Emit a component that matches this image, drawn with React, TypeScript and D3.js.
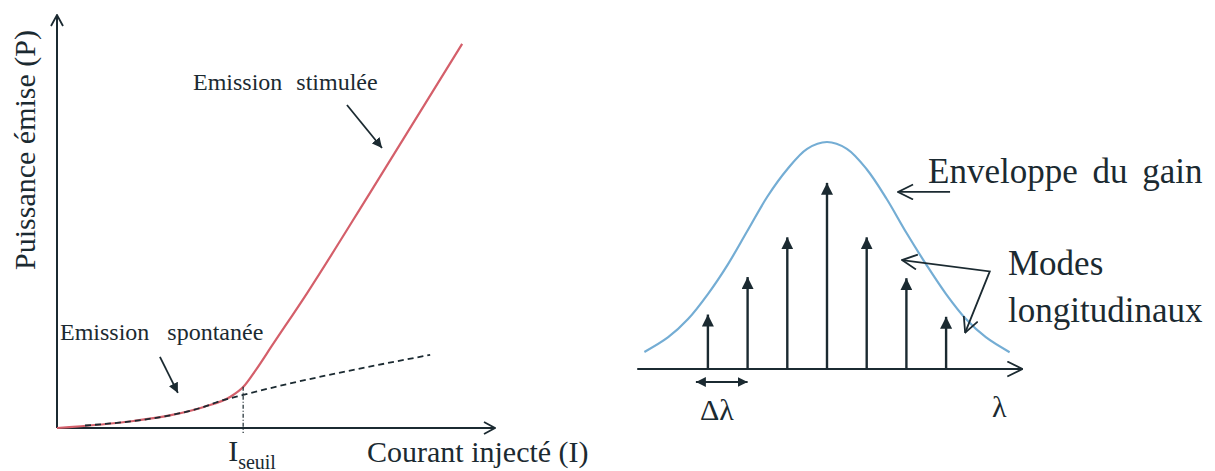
import * as d3 from "d3";
import { useEffect, useRef } from "react";

const COLORS = {
  ink: "#1b2a31",
  red: "#d45f6a",
  blue: "#74add4",
};
const FONT = "'Liberation Serif', 'DejaVu Serif', serif";

// Left panel: P(I) characteristic of the laser diode
const CURRENT = [0, 1.75, 2.6, 3.35, 3.95, 4.25, 4.55, 4.9, 5.7, 7.15, 9.25];
const POWER = [0, 0.17, 0.31, 0.51, 0.75, 0.99, 1.42, 1.98, 3.25, 5.7, 9.3];
const SPONT_CURRENT = [0.64, 1.75, 2.6, 3.35, 3.72, 4.25, 8.52];
const SPONT_POWER = [0.06, 0.17, 0.31, 0.51, 0.65, 0.8, 1.77];
const I_SEUIL = 4.25;

// Right panel: gain envelope and longitudinal modes
const MODE_INDEX = [-3, -2, -1, 0, 1, 2, 3];
const MODE_GAIN = [0.24, 0.405, 0.58, 0.82, 0.58, 0.4, 0.23];
const ENV_LAMBDA = [-4.6, -4, -3.5, -3, -2.5, -2, -1.5, -1, -0.5, 0, 0.5, 1, 1.5, 2, 2.5, 3, 3.5, 4, 4.6];
const ENV_GAIN = [0.075, 0.14, 0.22, 0.33, 0.46, 0.61, 0.76, 0.88, 0.97, 1, 0.97, 0.88, 0.75, 0.6, 0.46, 0.33, 0.22, 0.14, 0.074];

const W = 1215;
const H = 471;

const App = () => {
  const svgRef = useRef<SVGSVGElement | null>(null);

  useEffect(() => {
    const svg = d3.select(svgRef.current);
    svg.selectAll("*").remove();
    svg.attr("width", W).attr("height", H);

    svg.append("rect").attr("width", W).attr("height", H).attr("fill", "#fff");

    // arrow markers
    const defs = svg.append("defs");
    const filled = (id: string, len: number, half: number) =>
      defs
        .append("marker")
        .attr("id", id)
        .attr("markerUnits", "userSpaceOnUse")
        .attr("viewBox", `0 ${-half} ${len} ${half * 2}`)
        .attr("refX", len)
        .attr("refY", 0)
        .attr("markerWidth", len)
        .attr("markerHeight", half * 2)
        .attr("orient", "auto-start-reverse")
        .append("path")
        .attr("d", `M0,${-half}L${len},0L0,${half}Z`)
        .attr("fill", COLORS.ink);
    filled("head", 12, 6);
    filled("headSmall", 10, 5);

    const open = (id: string, len: number, half: number) =>
      defs
        .append("marker")
        .attr("id", id)
        .attr("markerUnits", "userSpaceOnUse")
        .attr("viewBox", `-1 ${-half - 1} ${len + 2} ${half * 2 + 2}`)
        .attr("refX", len)
        .attr("refY", 0)
        .attr("markerWidth", len + 2)
        .attr("markerHeight", half * 2 + 2)
        .attr("orient", "auto-start-reverse")
        .append("path")
        .attr("d", `M0,${-half}L${len},0L0,${half}`)
        .attr("fill", "none")
        .attr("stroke", COLORS.ink)
        .attr("stroke-width", 1.8);
    open("chev", 11, 6);
    open("chevBig", 15, 7.5);

    // ---------- left panel ----------
    const x = d3.scaleLinear().domain([0, 10]).range([57, 495]);
    const y = d3.scaleLinear().domain([0, 10]).range([428, 15]);

    const left = svg.append("g");

    // axes
    left
      .append("line")
      .attr("x1", x(0))
      .attr("y1", y(0))
      .attr("x2", x(0))
      .attr("y2", y(10))
      .attr("stroke", COLORS.ink)
      .attr("stroke-width", 2)
      .attr("marker-end", "url(#chev)");
    left
      .append("line")
      .attr("x1", x(0))
      .attr("y1", y(0))
      .attr("x2", x(10))
      .attr("y2", y(0))
      .attr("stroke", COLORS.ink)
      .attr("stroke-width", 2)
      .attr("marker-end", "url(#chev)");

    // stimulated emission curve
    left
      .append("path")
      .attr(
        "d",
        d3
          .line<number>()
          .x((_, i) => x(CURRENT[i]))
          .y((_, i) => y(POWER[i]))
          .curve(d3.curveMonotoneX)(CURRENT)
      )
      .attr("fill", "none")
      .attr("stroke", COLORS.red)
      .attr("stroke-width", 2.2);

    // spontaneous emission (dashed)
    left
      .append("path")
      .attr(
        "d",
        d3
          .line<number>()
          .x((_, i) => x(SPONT_CURRENT[i]))
          .y((_, i) => y(SPONT_POWER[i]))
          .curve(d3.curveMonotoneX)(SPONT_CURRENT)
      )
      .attr("fill", "none")
      .attr("stroke", COLORS.ink)
      .attr("stroke-width", 1.8)
      .attr("stroke-dasharray", "6,4");

    // threshold marker
    left
      .append("line")
      .attr("x1", x(I_SEUIL))
      .attr("x2", x(I_SEUIL))
      .attr("y1", y(1.0))
      .attr("y2", y(-0.12))
      .attr("stroke", COLORS.ink)
      .attr("stroke-width", 1.2)
      .attr("stroke-dasharray", "4,2,1,2");

    // annotations
    left
      .append("line")
      .attr("x1", x(6.62))
      .attr("y1", y(7.82))
      .attr("x2", x(7.42))
      .attr("y2", y(6.78))
      .attr("stroke", COLORS.ink)
      .attr("stroke-width", 1.8)
      .attr("marker-end", "url(#headSmall)");
    left
      .append("line")
      .attr("x1", x(2.35))
      .attr("y1", y(1.72))
      .attr("x2", x(2.76))
      .attr("y2", y(0.85))
      .attr("stroke", COLORS.ink)
      .attr("stroke-width", 1.8)
      .attr("marker-end", "url(#headSmall)");

    const text = (g: any, tx: number, ty: number, s: string, size: number) =>
      g
        .append("text")
        .attr("x", tx)
        .attr("y", ty)
        .attr("font-size", size)
        .attr("fill", COLORS.ink)
        .text(s);

    text(left, 193, 90, "Emission stimulée", 24).attr("word-spacing", 8);
    text(left, 60, 340, "Emission spontanée", 24).attr("word-spacing", 12);
    text(left, 367, 462, "Courant injecté (I)", 30);

    const iSeuil = left
      .append("text")
      .attr("x", x(I_SEUIL) - 15)
      .attr("y", 461)
      .attr("fill", COLORS.ink);
    iSeuil.append("tspan").attr("font-size", 30).text("I");
    iSeuil.append("tspan").attr("font-size", 20).attr("dy", 8).text("seuil");

    left
      .append("text")
      .attr("transform", "translate(35,150) rotate(-90)")
      .attr("text-anchor", "middle")
      .attr("font-size", 30)
      .attr("fill", COLORS.ink)
      .text("Puissance émise (P)");

    // ---------- right panel ----------
    const xr = d3.scaleLinear().domain([-5, 5]).range([827 - 5 * 39.7, 827 + 5 * 39.7]);
    const yr = d3.scaleLinear().domain([0, 1]).range([369, 142]);
    const right = svg.append("g");

    // gain envelope
    right
      .append("path")
      .attr(
        "d",
        d3
          .line<number>()
          .x((_, i) => xr(ENV_LAMBDA[i]))
          .y((_, i) => yr(ENV_GAIN[i]))
          .curve(d3.curveCatmullRom)(ENV_LAMBDA)
      )
      .attr("fill", "none")
      .attr("stroke", COLORS.blue)
      .attr("stroke-width", 2.2);

    // λ axis
    right
      .append("line")
      .attr("x1", xr(-4.78))
      .attr("x2", xr(4.92))
      .attr("y1", yr(0))
      .attr("y2", yr(0))
      .attr("stroke", COLORS.ink)
      .attr("stroke-width", 2.2)
      .attr("marker-end", "url(#chevBig)");

    // modes
    right
      .selectAll(".mode")
      .data(MODE_INDEX)
      .enter()
      .append("line")
      .attr("class", "mode")
      .attr("x1", (d) => xr(d))
      .attr("x2", (d) => xr(d))
      .attr("y1", yr(0))
      .attr("y2", (_, i) => yr(MODE_GAIN[i]))
      .attr("stroke", COLORS.ink)
      .attr("stroke-width", 2.4)
      .attr("marker-end", "url(#head)");

    // Δλ spacing
    right
      .append("line")
      .attr("x1", xr(MODE_INDEX[0]) - 12)
      .attr("x2", xr(MODE_INDEX[1]))
      .attr("y1", yr(0) + 13)
      .attr("y2", yr(0) + 13)
      .attr("stroke", COLORS.ink)
      .attr("stroke-width", 2)
      .attr("marker-start", "url(#headSmall)")
      .attr("marker-end", "url(#headSmall)");

    // labels with pointers
    right
      .append("line")
      .attr("x1", xr(3.1))
      .attr("x2", xr(1.79))
      .attr("y1", yr(0.78))
      .attr("y2", yr(0.78))
      .attr("stroke", COLORS.ink)
      .attr("stroke-width", 1.8)
      .attr("marker-end", "url(#chevBig)");
    right
      .append("polyline")
      .attr(
        "points",
        [
          [xr(1.89), yr(0.48)],
          [xr(4.1), yr(0.43)],
          [xr(3.48), yr(0.16)],
        ]
          .map((p) => p.join(","))
          .join(" ")
      )
      .attr("fill", "none")
      .attr("stroke", COLORS.ink)
      .attr("stroke-width", 1.8)
      .attr("marker-start", "url(#chevBig)")
      .attr("marker-end", "url(#chevBig)");

    text(right, 928, 183, "Enveloppe du gain", 35).attr("word-spacing", 6);
    text(right, 1008, 275, "Modes", 35);
    text(right, 1008, 322, "longitudinaux", 35);
    text(right, 700, 420, "Δλ", 30);
    text(right, 992, 417, "λ", 30);
  }, []);

  return (
    <svg
      ref={svgRef}
      style={{ position: "absolute", left: 0, top: 0, display: "block", fontFamily: FONT }}
      xmlns="http://www.w3.org/2000/svg"
    />
  );
};

export default App;
